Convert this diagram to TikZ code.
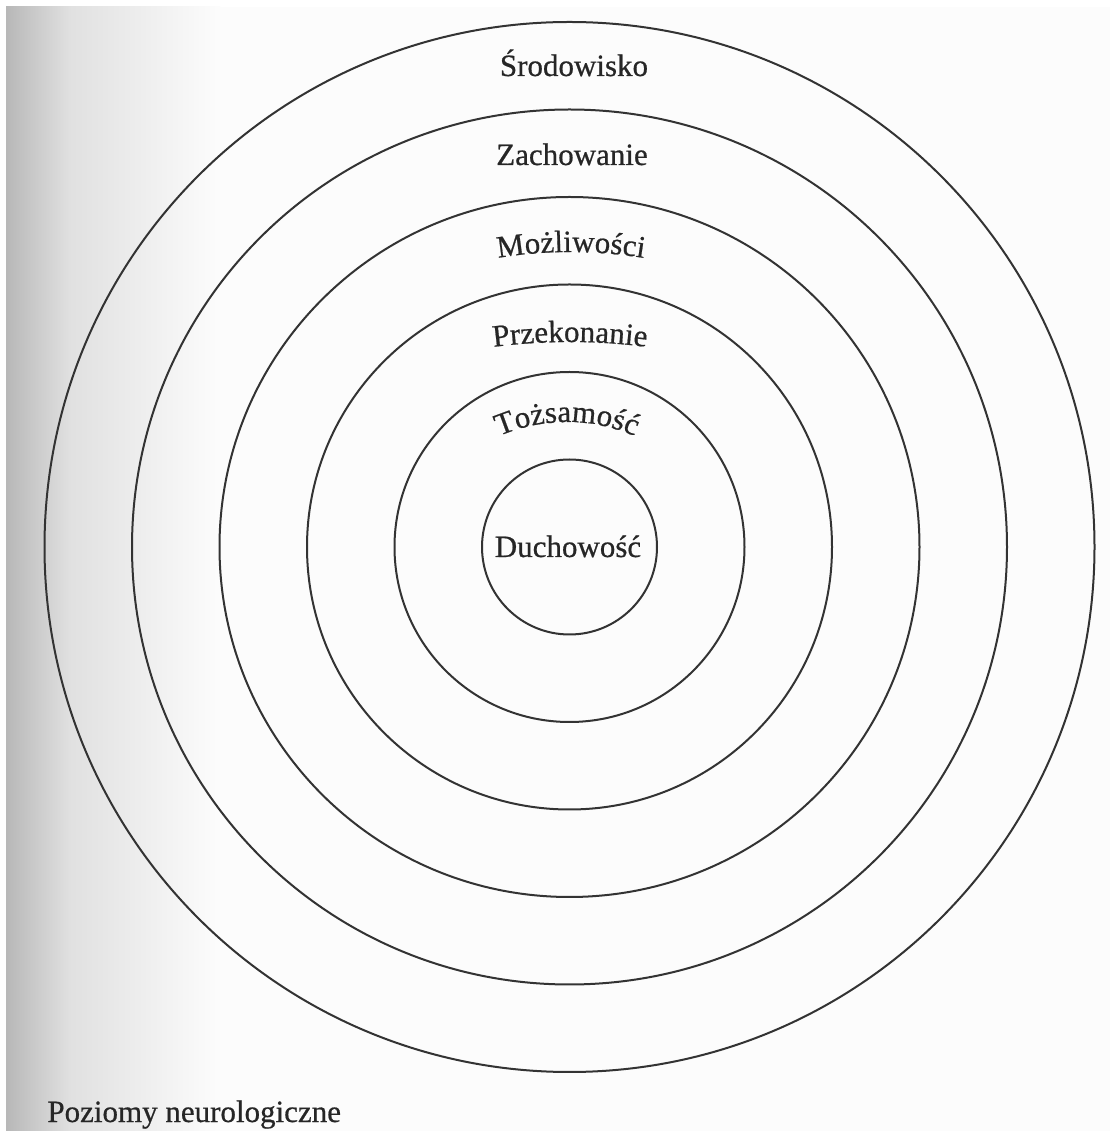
\documentclass[tikz,border=0pt]{standalone}
\usepackage{fontspec}
\setmainfont{Liberation Serif}
\newfontfamily\levelfamily[FakeBold=0.6]{Liberation Serif}
\usepackage{tikz}
\usetikzlibrary{decorations.text}

\newcommand{\levelfont}{\levelfamily\fontsize{15.5}{18}\selectfont}

\begin{document}
\begin{tikzpicture}[
            x=0.5pt, y=0.5pt,
            ring/.style={circle, draw=black!80, line width=1pt, inner sep=0pt, outer sep=0pt}, % one circle per level
            level/.style={font=\levelfont, text=black!85, inner sep=0pt, anchor=base}, % straight level names
            bent level/.style={decorate, decoration={text along path, text align=center, text color=black!85}} % level names set on an arc
            ]

        % page with the grey shadow near the binding
        \useasboundingbox (0,0) rectangle (1110,1131);
        \fill[white] (0,0) rectangle (1110,1131);
        \fill[black!1] (6,0) rectangle (1110,1124);
        \shade[left color=black!28, right color=black!12] (6,0) rectangle (70,1124);
        \shade[left color=black!12, right color=black!1] (70,0) rectangle (220,1124);

        % rings, innermost first
        \coordinate (centre) at (569.5,584);
        \foreach \i [evaluate=\i as \d using 87.5*\i] in {1,...,6}
            \node[ring, minimum size=\d pt] (ring\i) at (centre) {};

        % level names
        \node[level] (srodowisko) at (574,1055) {Środowisko};
        \node[level] (zachowanie) at (572,966) {Zachowanie};
        \path[bent level, shift={(571,429)}, decoration={text={|\levelfont|Możliwości}}]
            (107:450) arc[start angle=107, end angle=73, radius=450];
        \path[bent level, shift={(570,189)}, decoration={text={|\levelfont|Przekonanie}}]
            (103:600) arc[start angle=103, end angle=77, radius=600];
        \path[bent level, shift={(567,539)}, decoration={text={|\levelfont|Tożsamość}}]
            (134:170) arc[start angle=134, end angle=46, radius=170];
        \node[level] (duchowosc) at (568,574) {Duchowość};

        % caption
        \node[level, anchor=base west] (caption) at (47,9) {Poziomy neurologiczne};

\end{tikzpicture}
\end{document}
